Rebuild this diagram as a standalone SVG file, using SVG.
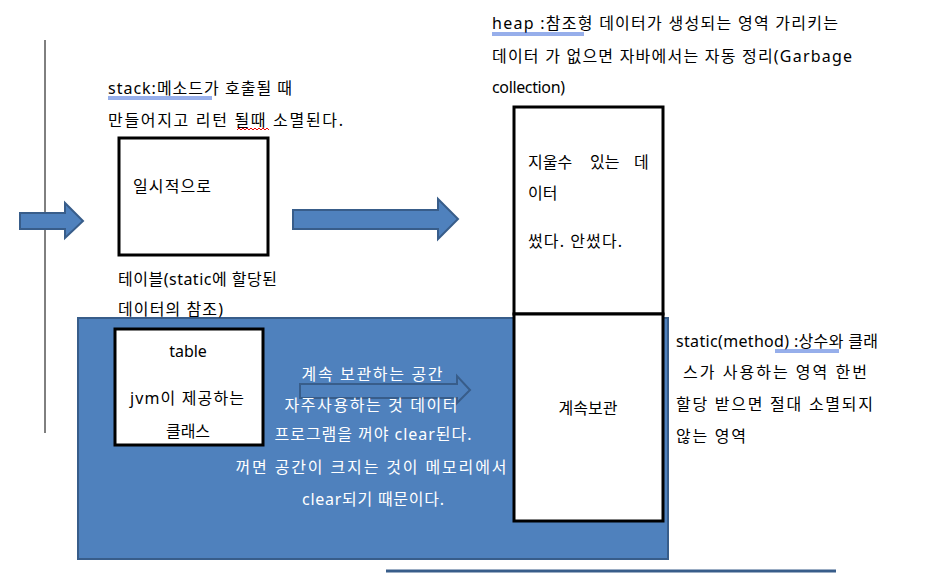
<svg xmlns="http://www.w3.org/2000/svg" width="933" height="573" viewBox="0 0 933 573">
<style>
  text { font-family: "Noto Sans", "Noto Sans CJK KR", sans-serif; font-size: 16px; fill: #000; }
  .w { fill: #fff; }
  .c { text-anchor: middle; }
  .box { fill: #fff; stroke: #000; stroke-width: 3; }
  .arrow { fill: #4F81BD; stroke: #385D8A; stroke-width: 2; }
  .ul { stroke: #2E5FD6; stroke-width: 1; fill: none; }
</style>
<rect width="933" height="573" fill="#fff"/>

<g id="panel">
  <rect x="78" y="318" width="590" height="241" fill="#4F81BD" stroke="#385D8A" stroke-width="2"/>
</g>

<g id="vline">
  <line x1="45" y1="40" x2="45" y2="433" stroke="#000" stroke-width="1"/>
</g>

<g id="connectors">
  <path class="arrow" d="M20,213 H65 V203 L83,221 L65,238 V229 H20 Z"/>
  <path class="arrow" d="M293,210 H438 V199 L458,219 L438,239 V229 H293 Z"/>
  <path class="arrow" d="M300,384 H457 V376 L470,390 L457,403 V398 H300 Z"/>
</g>

<g id="stack-label">
  <text x="108" y="94" textLength="184" lengthAdjust="spacing">stack:메소드가 호출될 때</text>
  <line class="ul" x1="108" y1="97" x2="212" y2="97"/>
  <line class="ul" x1="108" y1="99" x2="212" y2="99"/>
  <text x="108" y="126" textLength="235" lengthAdjust="spacing">만들어지고 리턴 될때 소멸된다.</text>
  <path d="M237,130 l2,-2 l2,2 l2,-2 l2,2 l2,-2 l2,2 l2,-2 l2,2 l2,-2 l2,2 l2,-2 l2,2 l2,-2 l2,2 l2,-2 l2,2" fill="none" stroke="#E00" stroke-width="1"/>
</g>

<g id="stack-box">
  <rect class="box" x="119" y="138" width="149" height="117"/>
  <text x="133" y="192" textLength="78" lengthAdjust="spacing">일시적으로</text>
</g>

<g id="stack-sub">
  <text x="118" y="285" textLength="159" lengthAdjust="spacing">테이블(static에 할당된</text>
  <text x="118" y="315" textLength="105" lengthAdjust="spacing">데이터의 참조)</text>
</g>

<g id="heap-label">
  <text x="492" y="29" textLength="346" lengthAdjust="spacing">heap :참조형 데이터가 생성되는 영역 가리키는</text>
  <line class="ul" x1="492" y1="33" x2="584" y2="33"/>
  <line class="ul" x1="492" y1="35" x2="584" y2="35"/>
  <text x="492" y="62" textLength="360" lengthAdjust="spacing">데이터 가 없으면 자바에서는 자동 정리(Garbage</text>
  <text x="492" y="93" textLength="73" lengthAdjust="spacing">collection)</text>
</g>

<g id="heap-box">
  <rect class="box" x="514" y="107" width="149" height="207"/>
  <text x="528" y="168"><tspan x="528">지울수</tspan><tspan x="590">있는</tspan><tspan x="634">데</tspan></text>
  <text x="528" y="199">이터</text>
  <text x="528" y="247" textLength="94" lengthAdjust="spacing">썼다. 안썼다.</text>
</g>

<g id="static-box">
  <rect class="box" x="514" y="314" width="149" height="207"/>
  <text class="c" x="588" y="414">계속보관</text>
</g>

<g id="table-box">
  <rect class="box" x="115" y="329" width="148" height="116"/>
  <text class="c" x="188" y="357">table</text>
  <text class="c" x="187" y="404" textLength="114" lengthAdjust="spacing">jvm이 제공하는</text>
  <text class="c" x="188" y="437">클래스</text>
</g>

<g id="panel-text">
  <text class="w c" x="372" y="380" textLength="141" lengthAdjust="spacing">계속 보관하는 공간</text>
  <text class="w c" x="371" y="411" textLength="173" lengthAdjust="spacing">자주사용하는 것 데이터</text>
  <text class="w c" x="373" y="440" textLength="197" lengthAdjust="spacing">프로그램을 꺼야 clear된다.</text>
  <text class="w c" x="371" y="473" textLength="271" lengthAdjust="spacing">꺼면 공간이 크지는 것이 메모리에서</text>
  <text class="w c" x="373" y="505" textLength="142" lengthAdjust="spacing">clear되기 때문이다.</text>
</g>

<g id="static-label">
  <text x="676" y="347" textLength="202" lengthAdjust="spacing">static(method) :상수와 클래</text>
  <line class="ul" x1="775" y1="350" x2="839" y2="350"/>
  <line class="ul" x1="775" y1="352" x2="839" y2="352"/>
  <text x="683" y="378" textLength="184" lengthAdjust="spacing">스가 사용하는 영역 한번</text>
  <text x="676" y="410" textLength="197" lengthAdjust="spacing">할당 받으면 절대 소멸되지</text>
  <text x="676" y="442" textLength="70" lengthAdjust="spacing">않는 영역</text>
</g>

<g id="bottom-line">
  <line x1="386" y1="571" x2="836" y2="571" stroke="#385D8A" stroke-width="3"/>
</g>
</svg>
